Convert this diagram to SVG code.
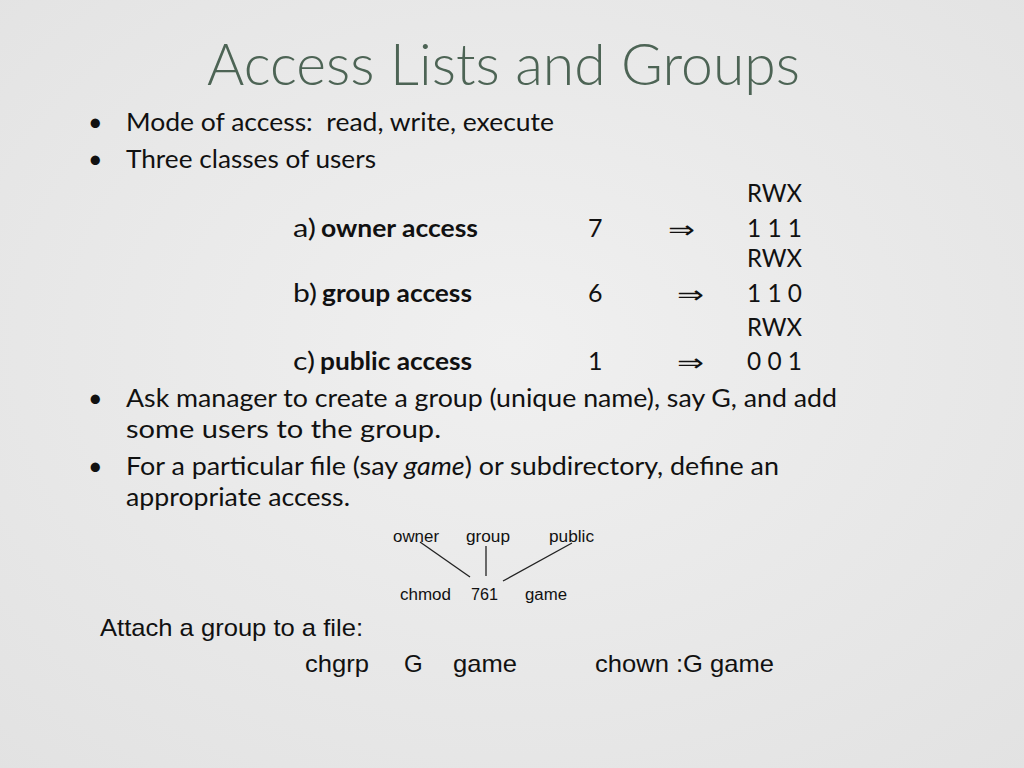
<svg xmlns="http://www.w3.org/2000/svg" width="1024" height="768" viewBox="0 0 1024 768">
<defs>
<radialGradient id="bg" cx="50%" cy="45%" r="75%">
<stop offset="0" stop-color="#f0f0f0"/>
<stop offset="1" stop-color="#e2e2e2"/>
</radialGradient>
</defs>
<style>
.title{font-family:Lato,"Open Sans","Liberation Sans",sans-serif;font-weight:300;font-size:58px;fill:#4d6455}
.b{font-family:Lato,"Open Sans","Liberation Sans",sans-serif;font-size:25px;fill:#111}
.bold{font-weight:bold}
.arr{font-family:"DejaVu Sans",sans-serif;font-size:24px;fill:#111}
.s{font-family:"Liberation Sans",Arial,sans-serif;font-size:16px;fill:#111}
.m{font-family:"Liberation Sans",Arial,sans-serif;font-size:24px;fill:#111}
.ln{stroke:#222;stroke-width:1.3;fill:none}
</style>
<rect width="1024" height="768" fill="url(#bg)"/>
<text id="title" class="title" x="207" y="85" textLength="593" lengthAdjust="spacingAndGlyphs">Access Lists and Groups</text>
<g id="bullet1">
<text class="b" x="88" y="131">•</text>
<text class="b" x="126" y="131" textLength="428" lengthAdjust="spacingAndGlyphs" xml:space="preserve">Mode of access:  read, write, execute</text>
</g>
<g id="bullet2">
<text class="b" x="88" y="168">•</text>
<text class="b" x="126" y="168" textLength="250" lengthAdjust="spacingAndGlyphs">Three classes of users</text>
</g>
<g id="owner-row">
<text class="b" x="747" y="202" textLength="55" lengthAdjust="spacingAndGlyphs">RWX</text>
<text class="b" x="293" y="237" textLength="23" lengthAdjust="spacingAndGlyphs">a)</text>
<text class="b bold" x="321" y="237" textLength="157" lengthAdjust="spacingAndGlyphs">owner access</text>
<text class="b" x="588" y="237">7</text>
<text class="arr" x="668" y="238" textLength="27" lengthAdjust="spacingAndGlyphs">⇒</text>
<text class="b" x="747" y="237" textLength="55" lengthAdjust="spacingAndGlyphs">1 1 1</text>
</g>
<g id="group-row">
<text class="b" x="747" y="267" textLength="55" lengthAdjust="spacingAndGlyphs">RWX</text>
<text class="b" x="293" y="302" textLength="24" lengthAdjust="spacingAndGlyphs">b)</text>
<text class="b bold" x="322" y="302" textLength="150" lengthAdjust="spacingAndGlyphs">group access</text>
<text class="b" x="588" y="302">6</text>
<text class="arr" x="677" y="303" textLength="27" lengthAdjust="spacingAndGlyphs">⇒</text>
<text class="b" x="747" y="302" textLength="55" lengthAdjust="spacingAndGlyphs">1 1 0</text>
</g>
<g id="public-row">
<text class="b" x="747" y="336" textLength="55" lengthAdjust="spacingAndGlyphs">RWX</text>
<text class="b" x="293" y="370" textLength="22" lengthAdjust="spacingAndGlyphs">c)</text>
<text class="b bold" x="320" y="370" textLength="152" lengthAdjust="spacingAndGlyphs">public access</text>
<text class="b" x="588" y="370">1</text>
<text class="arr" x="677" y="371" textLength="27" lengthAdjust="spacingAndGlyphs">⇒</text>
<text class="b" x="747" y="370" textLength="55" lengthAdjust="spacingAndGlyphs">0 0 1</text>
</g>
<g id="bullet3">
<text class="b" x="88" y="407">•</text>
<text class="b" x="126" y="407" textLength="711" lengthAdjust="spacingAndGlyphs">Ask manager to create a group (unique name), say G, and add</text>
<text class="b" x="126" y="438" textLength="315" lengthAdjust="spacingAndGlyphs">some users to the group.</text>
</g>
<g id="bullet4">
<text class="b" x="88" y="475">•</text>
<text class="b" x="126" y="475" textLength="653" lengthAdjust="spacingAndGlyphs">For a particular file (say <tspan font-style="italic">game</tspan>) or subdirectory, define an</text>
<text class="b" x="126" y="506" textLength="224" lengthAdjust="spacingAndGlyphs">appropriate access.</text>
</g>
<g id="label-owner"><text class="s" x="393" y="542" textLength="46" lengthAdjust="spacingAndGlyphs">owner</text></g>
<g id="label-group"><text class="s" x="466" y="542" textLength="44" lengthAdjust="spacingAndGlyphs">group</text></g>
<g id="label-public"><text class="s" x="549" y="542" textLength="45" lengthAdjust="spacingAndGlyphs">public</text></g>
<g id="cmd-chmod">
<text class="s" x="400" y="600" textLength="51" lengthAdjust="spacingAndGlyphs">chmod</text>
<text class="s" x="471" y="600" textLength="27" lengthAdjust="spacingAndGlyphs">761</text>
<text class="s" x="525" y="600" textLength="42" lengthAdjust="spacingAndGlyphs">game</text>
</g>
<g id="connectors">
<line class="ln" x1="420" y1="542" x2="470" y2="577"/>
<line class="ln" x1="486" y1="546" x2="486" y2="576"/>
<line class="ln" x1="572" y1="543" x2="503" y2="581"/>
</g>
<g id="attach">
<text class="m" x="100" y="636" textLength="263" lengthAdjust="spacingAndGlyphs">Attach a group to a file:</text>
<text class="m" x="305" y="672" textLength="64" lengthAdjust="spacingAndGlyphs">chgrp</text>
<text class="m" x="404" y="672">G</text>
<text class="m" x="453" y="672" textLength="64" lengthAdjust="spacingAndGlyphs">game</text>
<text class="m" x="595" y="672" textLength="179" lengthAdjust="spacingAndGlyphs">chown :G game</text>
</g>
</svg>
